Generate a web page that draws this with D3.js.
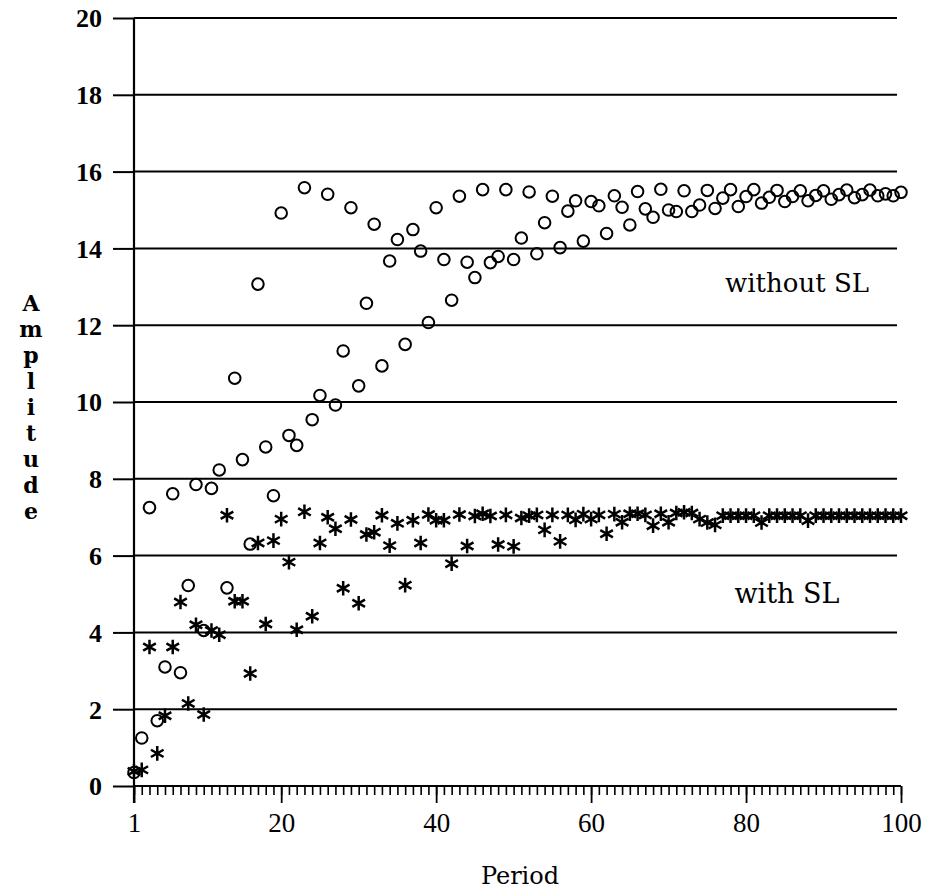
<!DOCTYPE html>
<html>
<head>
<meta charset="utf-8">
<script src="https://cdn.jsdelivr.net/npm/d3@7"></script>
<style>
  body { margin: 0; background: #fff; }
  svg text { fill: #000; }
</style>
</head>
<body>
<svg width="929" height="896"></svg>
<script>
// amplitude per period
const withoutSL = [
  0.35, 1.25, 7.25, 1.70, 3.10, 7.61, 2.95, 5.22, 7.85, 4.05,
  7.75, 8.23, 5.16, 10.62, 8.50, 6.30, 13.07, 8.83, 7.56, 14.92,
  9.13, 8.87, 15.58, 9.54, 10.17, 15.41, 9.92, 11.33, 15.06, 10.42,
  12.57, 14.63, 10.94, 13.67, 14.23, 11.50, 14.49, 13.93, 12.07, 15.06,
  13.71, 12.65, 15.36, 13.64, 13.24, 15.53, 13.63, 13.79, 15.53, 13.71,
  14.27, 15.47, 13.86, 14.67, 15.36, 14.02, 14.97, 15.24, 14.19, 15.22,
  15.11, 14.39, 15.37, 15.07, 14.61, 15.48, 15.03, 14.81, 15.54, 15.00,
  14.96, 15.50, 14.96, 15.13, 15.51, 15.04, 15.31, 15.53, 15.09, 15.35,
  15.53, 15.18, 15.33, 15.51, 15.22, 15.35, 15.50, 15.24, 15.38, 15.50,
  15.28, 15.40, 15.52, 15.32, 15.40, 15.52, 15.37, 15.42, 15.37, 15.46
];
const withSL = [
  0.38, 0.42, 3.62, 0.85, 1.83, 3.62, 4.79, 2.15, 4.20, 1.86,
  4.05, 3.94, 7.05, 4.81, 4.81, 2.93, 6.33, 4.22, 6.39, 6.95,
  5.83, 4.07, 7.14, 4.42, 6.33, 7.00, 6.70, 5.15, 6.94, 4.76,
  6.55, 6.61, 7.05, 6.26, 6.84, 5.23, 6.92, 6.33, 7.07, 6.92,
  6.92, 5.79, 7.07, 6.25, 7.03, 7.09, 7.03, 6.29, 7.06, 6.24,
  6.98, 7.04, 7.06, 6.67, 7.06, 6.37, 7.06, 6.93, 7.08, 6.95,
  7.06, 6.57, 7.08, 6.87, 7.09, 7.09, 7.06, 6.78, 7.09, 6.87,
  7.11, 7.13, 7.11, 6.95, 6.86, 6.80, 7.04, 7.04, 7.04, 7.04,
  7.04, 6.86, 7.04, 7.04, 7.04, 7.04, 7.04, 6.91, 7.04, 7.04,
  7.04, 7.04, 7.04, 7.04, 7.04, 7.04, 7.04, 7.04, 7.04, 7.04
];
const periods = withoutSL.map((_, i) => i + 1);
const xLabels = [1, 20, 40, 60, 80, 100];
const yLabels = [0, 2, 4, 6, 8, 10, 12, 14, 16, 18, 20];

const numFont = '"Liberation Serif", "Times New Roman", serif';
const wordFont = '"DejaVu Serif", serif';

let svg = d3.select('svg');
let x = d3.scaleLinear().domain([1, 100]).range([134, 901]);
let y = d3.scaleLinear().domain([0, 20]).range([786, 18]);
const gridEnd = 897;

// horizontal grid lines
svg.append('g')
  .selectAll('line')
  .data(yLabels.filter(d => d > 0))
  .join('line')
  .attr('x1', x(1)).attr('x2', gridEnd)
  .attr('y1', d => y(d)).attr('y2', d => y(d))
  .attr('stroke', '#000').attr('stroke-width', 2);

// y axis: ticks stick out to the left
let yAxis = svg.append('g')
  .attr('transform', `translate(${x(1)},0)`)
  .call(d3.axisLeft(y).tickValues(yLabels).tickSize(21).tickPadding(11));
yAxis.select('.domain').remove();
yAxis.selectAll('line').attr('stroke', '#000').attr('stroke-width', 2);
yAxis.selectAll('text')
  .attr('font-size', 26)
  .attr('font-weight', 'bold')
  .attr('font-family', numFont)
  .attr('dy', '0.34em');

// x axis: a tick for every period, longer ones at the labels
let xMinor = svg.append('g')
  .attr('transform', `translate(0,${y(0)})`)
  .call(d3.axisBottom(x).tickValues(periods).tickSize(9).tickFormat(''));
xMinor.select('.domain').remove();
xMinor.selectAll('line').attr('stroke', '#000').attr('stroke-width', 1.6);

let xMajor = svg.append('g')
  .attr('transform', `translate(0,${y(0)})`)
  .call(d3.axisBottom(x).tickValues(xLabels).tickSize(17).tickPadding(10));
xMajor.select('.domain').remove();
xMajor.selectAll('line').attr('stroke', '#000').attr('stroke-width', 1.8);
xMajor.selectAll('text')
  .attr('font-size', 27)
  .attr('font-family', numFont);

// axis lines
svg.append('line')
  .attr('x1', x(1)).attr('x2', x(100))
  .attr('y1', y(0)).attr('y2', y(0))
  .attr('stroke', '#000').attr('stroke-width', 2.2);
svg.append('line')
  .attr('x1', x(1)).attr('x2', x(1))
  .attr('y1', y(20)).attr('y2', y(0) + 17)
  .attr('stroke', '#000').attr('stroke-width', 2.2);

// markers
let circleSym = d3.symbol().type(d3.symbolCircle).size(105);
let starSym = d3.symbol().type(d3.symbolAsterisk).size(150);

svg.append('g')
  .selectAll('path')
  .data(withSL)
  .join('path')
  .attr('transform', (d, i) => `translate(${x(periods[i])},${y(d)})`)
  .attr('d', starSym)
  .attr('fill', 'none')
  .attr('stroke', '#000')
  .attr('stroke-width', 2.5);

svg.append('g')
  .selectAll('path')
  .data(withoutSL)
  .join('path')
  .attr('transform', (d, i) => `translate(${x(periods[i])},${y(d)})`)
  .attr('d', circleSym)
  .attr('fill', 'none')
  .attr('stroke', '#000')
  .attr('stroke-width', 2);

// series labels
svg.append('text')
  .attr('x', 797).attr('y', 292)
  .attr('text-anchor', 'middle')
  .attr('font-family', wordFont)
  .attr('font-size', 26)
  .text('without SL');
svg.append('text')
  .attr('x', 787).attr('y', 603)
  .attr('text-anchor', 'middle')
  .attr('font-family', wordFont)
  .attr('font-size', 27)
  .text('with SL');

// axis titles
svg.append('text')
  .attr('x', 520).attr('y', 884)
  .attr('text-anchor', 'middle')
  .attr('font-family', wordFont)
  .attr('font-size', 24)
  .text('Period');

// vertical title, one letter per line, centred on the axis
let yTitle = svg.append('text')
  .attr('text-anchor', 'middle')
  .attr('font-family', wordFont)
  .attr('font-weight', 'bold')
  .attr('font-size', 22);
'Amplitude'.split('').forEach((ch, i) => {
  yTitle.append('tspan')
    .attr('x', 31)
    .attr('y', 311 + i * 26)
    .text(ch);
});
</script>
</body>
</html>
